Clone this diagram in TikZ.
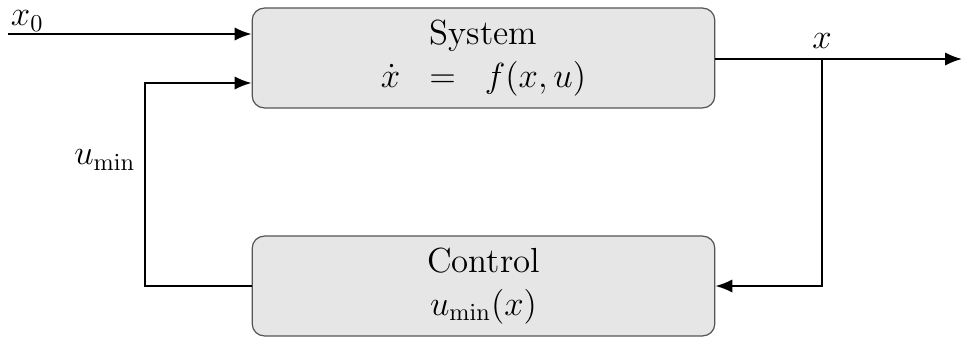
\documentclass[tikz,border=0pt]{standalone}
\usepackage{amsmath,amssymb}
\usetikzlibrary{arrows.meta, calc}
\definecolor{boxfill}{HTML}{E6E6E6}
\definecolor{boxline}{HTML}{555555}

\tikzset{
  blockbox/.style={draw=boxline, fill=boxfill, line width=0.5pt,
    rounded corners=5pt, minimum width=6.72cm, minimum height=1.45cm,
    align=center, font=\Large, inner sep=0pt},
  sigline/.style={line width=0.8pt},
  sigarrow/.style={line width=0.8pt, -{Latex[length=7pt, width=5.5pt]}}
}

\begin{document}
\begin{tikzpicture}[x=0.014523cm, y=-0.014523cm]

% Frame (fixes margins)
\useasboundingbox (0,0) rectangle (964,338);

% Blocks
\node[blockbox] (sys) at (483.5,58)
  {System\\$\dot{x}\hspace{8pt}=\hspace{8pt}f(x,u)$};
\node[blockbox] (ctrl) at (483.5,286)
  {Control\\$u_{\min}(x)$};

% Helper points
\coordinate (xzero) at (8,34);
\coordinate (branch) at (822,59);
\coordinate (outend) at (962,59);
\coordinate (fbleft) at (145,286);

% Initial state input
\draw[sigarrow] (xzero) -- (xzero -| sys.west);
\node[font=\Large, anchor=south west, inner sep=1pt] (xlab) at (xzero) {$x_0$};

% Output x
\draw[sigarrow] (sys.east |- branch) -- (outend);
\node[font=\Large, above=1pt] (outlab) at (branch) {$x$};

% Measured state back to control
\draw[sigarrow] (branch) |- (ctrl.east);

% Control back into system
\draw[sigarrow] (ctrl.west) -- (fbleft) -- (fbleft |- 0,83) -- ($(sys.west |- 0,83)$);
\node[font=\Large, left=0.5pt] (ulab) at (fbleft |- 0,160) {$u_{\min}$};

\end{tikzpicture}
\end{document}
